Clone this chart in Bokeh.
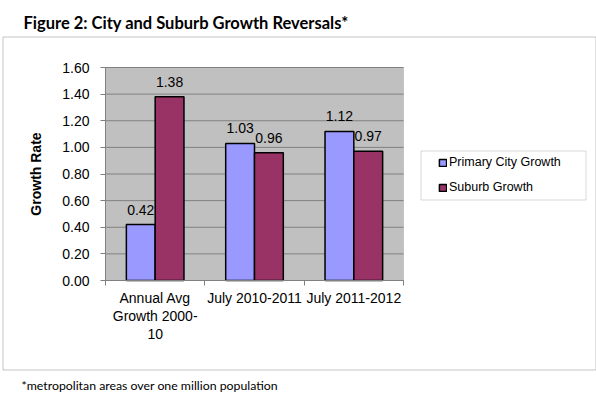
from bokeh.plotting import figure
from bokeh.models import (ColumnDataSource, FixedTicker, Legend, LegendItem,
                          LabelSet, Label, Range1d, NumeralTickFormatter, BoxAnnotation)
from bokeh.transform import dodge
from bokeh.core.properties import value
from bokeh.embed import file_html
from bokeh.resources import INLINE

# ---- data ----
categories = ["Annual Avg\nGrowth 2000-\n10", "July 2010-2011", "July 2011-2012"]
series_names = ["Primary City Growth", "Suburb Growth"]
city_growth = [0.42, 1.03, 1.12]
suburb_growth = [1.38, 0.96, 0.97]
y_ticks = [0.0, 0.2, 0.4, 0.6, 0.8, 1.0, 1.2, 1.4, 1.6]
title_text = "Figure 2: City and Suburb Growth Reversals*"
footnote_text = "*metropolitan areas over one million population"
y_label = "Growth Rate"

colors = ["#9999FF", "#993366"]
FONT = "Liberation Sans"
W, H = 596, 394

# ---- layout (page pixels) ----
PX0, PX1 = 105, 403      # plot area left / right
PY0, PY1 = 280, 67       # plot area bottom / top
n = len(categories)
x_lo, x_hi = -0.5, n - 0.5
y_lo, y_hi = y_ticks[0], y_ticks[-1]
sx = (PX1 - PX0) / (x_hi - x_lo)
sy = (PY0 - PY1) / (y_hi - y_lo)


def dx(px):
    return x_lo + (px - PX0) / sx


def dy(py):
    return y_lo + (PY0 - py) / sy


idx = list(range(n))
src = ColumnDataSource(dict(
    x=idx,
    city=city_growth,
    suburb=suburb_growth,
    city_lbl=["%.2f" % v for v in city_growth],
    suburb_lbl=["%.2f" % v for v in suburb_growth],
))

p = figure(width=W, height=H, output_backend="svg", toolbar_location=None, title=None,
           x_range=Range1d(dx(0), dx(W)), y_range=Range1d(dy(H), dy(0)), min_border=0)
p.background_fill_color = "white"
p.border_fill_color = "white"
p.outline_line_color = None
p.xgrid.visible = False
p.ygrid.visible = False

# outer chart border
p.add_layout(BoxAnnotation(left=dx(2.5), right=dx(595.5), top=dy(36.5), bottom=dy(369.5),
                           fill_alpha=0, line_color="#404040", line_width=1, level="image"))
# plot area
p.add_layout(BoxAnnotation(left=x_lo, right=x_hi, bottom=y_lo, top=y_hi,
                           fill_color="#C0C0C0", fill_alpha=1,
                           line_color="#808080", line_width=1, level="image"))
# horizontal gridlines
p.segment(x0=x_lo, x1=x_hi, y0=y_ticks, y1=y_ticks, line_color="#808080", line_width=1,
          level="underlay")

bw = 0.29
r1 = p.vbar(x=dodge("x", -bw / 2, range=p.x_range), top="city", width=bw, source=src,
            fill_color=colors[0], line_color="black", line_width=1.5)
r2 = p.vbar(x=dodge("x", bw / 2, range=p.x_range), top="suburb", width=bw, source=src,
            fill_color=colors[1], line_color="black", line_width=1.5)

for col, ycol, off in (("city_lbl", "city", -bw / 2), ("suburb_lbl", "suburb", bw / 2)):
    p.add_layout(LabelSet(x=dodge("x", off, range=p.x_range), y=ycol, text=col, source=src,
                          text_align="center", text_baseline="alphabetic", y_offset=10,
                          text_font=value(FONT), text_font_size=value("14px"),
                          text_color="black"))

# y axis, pinned to the plot area's left edge
ya = p.yaxis[0]
ya.fixed_location = x_lo
ya.bounds = (y_lo, y_hi)
ya.ticker = FixedTicker(ticks=y_ticks)
ya.formatter = NumeralTickFormatter(format="0.00")
ya.major_label_text_font = FONT
ya.major_label_text_font_size = "14px"
ya.major_label_text_color = "black"
ya.axis_line_color = "#808080"
ya.major_tick_line_color = "#808080"
ya.major_tick_out = 5
ya.major_tick_in = 0
ya.minor_tick_line_color = None
ya.major_label_standoff = 11
ya.axis_label = y_label
ya.axis_label_text_font = FONT
ya.axis_label_text_font_style = "bold"
ya.axis_label_text_font_size = "14px"
ya.axis_label_text_color = "black"
ya.axis_label_standoff = 15

# x axis, pinned to y = 0: labels at category centres, ticks on boundaries
xa = p.xaxis[0]
xa.fixed_location = y_lo
xa.bounds = (x_lo, x_hi)
xa.ticker = FixedTicker(ticks=idx, minor_ticks=[i - 0.5 for i in range(n + 1)])
xa.major_label_overrides = {i: c for i, c in enumerate(categories)}
xa.major_label_text_font = FONT
xa.major_label_text_font_size = "14px"
xa.major_label_text_color = "black"
xa.major_label_text_line_height = 1.15
xa.major_tick_line_color = None
xa.major_tick_out = 0
xa.major_tick_in = 0
xa.minor_tick_line_color = "#808080"
xa.minor_tick_out = 5
xa.minor_tick_in = 0
xa.axis_line_color = "#808080"
xa.major_label_standoff = 4

# legend frame + legend
p.add_layout(BoxAnnotation(left=dx(420.5), right=dx(585.5), top=dy(150.5), bottom=dy(199.5),
                           fill_color="white", fill_alpha=1,
                           line_color="#808080", line_width=1, level="annotation"))
legend = Legend(items=[LegendItem(label=series_names[0], renderers=[r1]),
                       LegendItem(label=series_names[1], renderers=[r2])],
                location=(438, H - 195), padding=0, margin=0, spacing=9,
                glyph_width=9, glyph_height=9, label_height=16, label_standoff=2,
                border_line_color=None, background_fill_alpha=0,
                label_text_font=FONT, label_text_font_size="12.5px", label_text_color="black")
p.add_layout(legend)

# title and footnote
p.add_layout(Label(x=dx(23), y=dy(22), text=title_text, text_font="Lato",
                   text_font_style="bold", text_font_size="16.5px",
                   text_baseline="alphabetic", text_color="black"))
p.add_layout(Label(x=dx(21), y=dy(384.5), text=footnote_text, text_font="Lato",
                   text_font_size="12.3px", text_baseline="alphabetic", text_color="black"))

open("out.html", "w").write(file_html(p, INLINE))
